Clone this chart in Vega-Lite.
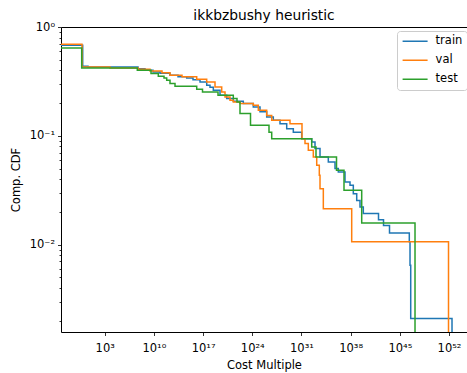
{
  "$schema": "https://vega.github.io/schema/vega-lite/v6.json",
  "width": 406,
  "height": 305,
  "autosize": {"type": "none"},
  "padding": {"left": 61, "top": 27, "right": 0, "bottom": 41},
  "title": {"text": "ikkbzbushy heuristic", "fontSize": 13.8, "fontWeight": "normal", "font": "DejaVu Sans", "color": "black", "offset": -2},
  "config": {
    "font": "DejaVu Sans",
    "view": {"stroke": null},
    "axis": {"grid": false, "domainColor": "black", "tickColor": "black", "labelColor": "black", "titleColor": "black", "labelFontSize": 11.5, "titleFontSize": 11.5, "titleFontWeight": "normal", "tickWidth": 0.8, "domainWidth": 1, "labelFont": "DejaVu Sans", "titleFont": "DejaVu Sans"}
  },
  "datasets": {
    "curves": [
      {"split": "train", "cost": 1e-4, "ccdf": 0.679},
      {"split": "train", "cost": 0.74, "ccdf": 0.435},
      {"split": "train", "cost": 4.2, "ccdf": 0.429},
      {"split": "train", "cost": 5.48e7, "ccdf": 0.413},
      {"split": "train", "cost": 5.43e8, "ccdf": 0.400},
      {"split": "train", "cost": 7.48e9, "ccdf": 0.386},
      {"split": "train", "cost": 7.41e10, "ccdf": 0.375},
      {"split": "train", "cost": 1.96e12, "ccdf": 0.360},
      {"split": "train", "cost": 2.70e13, "ccdf": 0.349},
      {"split": "train", "cost": 4.67e14, "ccdf": 0.340},
      {"split": "train", "cost": 3.68e15, "ccdf": 0.327},
      {"split": "train", "cost": 3.65e16, "ccdf": 0.312},
      {"split": "train", "cost": 3.28e17, "ccdf": 0.291},
      {"split": "train", "cost": 9.66e17, "ccdf": 0.279},
      {"split": "train", "cost": 2.85e18, "ccdf": 0.262},
      {"split": "train", "cost": 2.56e19, "ccdf": 0.236},
      {"split": "train", "cost": 2.30e20, "ccdf": 0.220},
      {"split": "train", "cost": 2.00e21, "ccdf": 0.208},
      {"split": "train", "cost": 5.30e22, "ccdf": 0.198},
      {"split": "train", "cost": 1.40e24, "ccdf": 0.184},
      {"split": "train", "cost": 1.26e25, "ccdf": 0.166},
      {"split": "train", "cost": 1.13e26, "ccdf": 0.149},
      {"split": "train", "cost": 9.84e26, "ccdf": 0.139},
      {"split": "train", "cost": 8.85e27, "ccdf": 0.129},
      {"split": "train", "cost": 7.94e28, "ccdf": 0.116},
      {"split": "train", "cost": 6.92e29, "ccdf": 0.108},
      {"split": "train", "cost": 1.08e31, "ccdf": 0.0942},
      {"split": "train", "cost": 2.87e32, "ccdf": 0.0877},
      {"split": "train", "cost": 8.47e32, "ccdf": 0.0763},
      {"split": "train", "cost": 4.36e33, "ccdf": 0.0639},
      {"split": "train", "cost": 6.61e34, "ccdf": 0.0574},
      {"split": "train", "cost": 5.94e35, "ccdf": 0.0500},
      {"split": "train", "cost": 1.75e36, "ccdf": 0.0465},
      {"split": "train", "cost": 1.57e37, "ccdf": 0.0376},
      {"split": "train", "cost": 8.09e37, "ccdf": 0.0351},
      {"split": "train", "cost": 2.39e38, "ccdf": 0.0294},
      {"split": "train", "cost": 7.28e38, "ccdf": 0.0255},
      {"split": "train", "cost": 2.14e39, "ccdf": 0.0222},
      {"split": "train", "cost": 6.32e39, "ccdf": 0.0193},
      {"split": "train", "cost": 9.20e41, "ccdf": 0.0169},
      {"split": "train", "cost": 4.74e42, "ccdf": 0.0150},
      {"split": "train", "cost": 3.38e43, "ccdf": 0.0128},
      {"split": "train", "cost": 2.22e46, "ccdf": 0.0106},
      {"split": "train", "cost": 2.80e46, "ccdf": 0.00645},
      {"split": "train", "cost": 3.52e46, "ccdf": 0.00209},
      {"split": "train", "cost": 2.65e52, "ccdf": 1e-4},
      {"split": "val", "cost": 1e-4, "ccdf": 0.693},
      {"split": "val", "cost": 0.589, "ccdf": 0.429},
      {"split": "val", "cost": 5.68e3, "ccdf": 0.420},
      {"split": "val", "cost": 5.48e7, "ccdf": 0.408},
      {"split": "val", "cost": 2.80e9, "ccdf": 0.394},
      {"split": "val", "cost": 1.43e11, "ccdf": 0.379},
      {"split": "val", "cost": 1.96e12, "ccdf": 0.360},
      {"split": "val", "cost": 1.0e14, "ccdf": 0.349},
      {"split": "val", "cost": 1.24e16, "ccdf": 0.331},
      {"split": "val", "cost": 3.28e17, "ccdf": 0.312},
      {"split": "val", "cost": 4.98e18, "ccdf": 0.281},
      {"split": "val", "cost": 4.47e19, "ccdf": 0.253},
      {"split": "val", "cost": 1.32e20, "ccdf": 0.227},
      {"split": "val", "cost": 6.78e20, "ccdf": 0.212},
      {"split": "val", "cost": 2.00e21, "ccdf": 0.205},
      {"split": "val", "cost": 1.79e22, "ccdf": 0.198},
      {"split": "val", "cost": 1.40e24, "ccdf": 0.191},
      {"split": "val", "cost": 7.23e24, "ccdf": 0.172},
      {"split": "val", "cost": 1.13e26, "ccdf": 0.154},
      {"split": "val", "cost": 5.83e26, "ccdf": 0.139},
      {"split": "val", "cost": 2.34e29, "ccdf": 0.129},
      {"split": "val", "cost": 1.19e31, "ccdf": 0.0942},
      {"split": "val", "cost": 3.19e31, "ccdf": 0.0848},
      {"split": "val", "cost": 9.42e31, "ccdf": 0.0736},
      {"split": "val", "cost": 4.85e32, "ccdf": 0.0639},
      {"split": "val", "cost": 1.48e33, "ccdf": 0.0536},
      {"split": "val", "cost": 3.46e33, "ccdf": 0.0434},
      {"split": "val", "cost": 4.36e33, "ccdf": 0.0327},
      {"split": "val", "cost": 1.29e34, "ccdf": 0.0214},
      {"split": "val", "cost": 1.41e38, "ccdf": 0.0106},
      {"split": "val", "cost": 8.43e51, "ccdf": 1e-4},
      {"split": "test", "cost": 1e-4, "ccdf": 0.641},
      {"split": "test", "cost": 0.533, "ccdf": 0.420},
      {"split": "test", "cost": 4.36e7, "ccdf": 0.400},
      {"split": "test", "cost": 3.88e9, "ccdf": 0.373},
      {"split": "test", "cost": 4.25e10, "ccdf": 0.352},
      {"split": "test", "cost": 2.75e11, "ccdf": 0.340},
      {"split": "test", "cost": 6.65e11, "ccdf": 0.324},
      {"split": "test", "cost": 1.96e12, "ccdf": 0.302},
      {"split": "test", "cost": 1.01e13, "ccdf": 0.285},
      {"split": "test", "cost": 1.24e16, "ccdf": 0.268},
      {"split": "test", "cost": 8.28e16, "ccdf": 0.253},
      {"split": "test", "cost": 1.33e19, "ccdf": 0.236},
      {"split": "test", "cost": 2.00e21, "ccdf": 0.220},
      {"split": "test", "cost": 6.71e21, "ccdf": 0.205},
      {"split": "test", "cost": 1.79e22, "ccdf": 0.160},
      {"split": "test", "cost": 5.61e23, "ccdf": 0.125},
      {"split": "test", "cost": 2.40e26, "ccdf": 0.108},
      {"split": "test", "cost": 5.83e26, "ccdf": 0.0942},
      {"split": "test", "cost": 2.87e32, "ccdf": 0.0789},
      {"split": "test", "cost": 1.17e33, "ccdf": 0.0639},
      {"split": "test", "cost": 9.70e35, "ccdf": 0.0482},
      {"split": "test", "cost": 1.13e37, "ccdf": 0.0316},
      {"split": "test", "cost": 3.74e39, "ccdf": 0.0158},
      {"split": "test", "cost": 1.44e47, "ccdf": 1e-4}
    ]
  },
  "layer": [
    {
      "data": {"name": "curves"},
      "mark": {"type": "line", "interpolate": "step-after", "strokeWidth": 1.5, "clip": true},
      "encoding": {
        "x": {
          "field": "cost", "type": "quantitative",
          "scale": {"type": "log", "domain": [6.04e-4, 3.6e54], "nice": false, "zero": false},
          "axis": {
            "values": [1e3, 1e10, 1e17, 1e24, 1e31, 1e38, 1e45, 1e52],
            "labelExpr": "'10' + replace(replace(replace(replace(replace(replace(replace(replace(replace(replace(replace('' + round(log(datum.value)/LN10), '-', '⁻'), '0', '⁰'), '1', '¹'), '2', '²'), '3', '³'), '4', '⁴'), '5', '⁵'), '6', '⁶'), '7', '⁷'), '8', '⁸'), '9', '⁹')",
            "title": "Cost Multiple",
            "tickSize": 3.5,
            "labelPadding": 7,
            "titlePadding": 5,
            "labelFlush": false,
            "orient": "bottom"
          }
        },
        "y": {
          "field": "ccdf", "type": "quantitative",
          "scale": {"type": "log", "domain": [1.574e-3, 1], "nice": false, "zero": false},
          "axis": {
            "values": [0.01, 0.1, 1],
            "labelExpr": "'10' + replace(replace(replace(replace(replace(replace(replace(replace(replace(replace(replace('' + round(log(datum.value)/LN10), '-', '⁻'), '0', '⁰'), '1', '¹'), '2', '²'), '3', '³'), '4', '⁴'), '5', '⁵'), '6', '⁶'), '7', '⁷'), '8', '⁸'), '9', '⁹')",
            "title": "Comp. CDF",
            "tickSize": 3.5,
            "labelPadding": 3,
            "titlePadding": 8,
            "labelFlush": false,
            "orient": "left"
          }
        },
        "color": {
          "field": "split", "type": "nominal",
          "scale": {"domain": ["train", "val", "test"], "range": ["#1f77b4", "#ff7f0e", "#2ca02c"]},
          "legend": {
            "title": null,
            "orient": "none",
            "legendX": 336,
            "legendY": 4,
            "symbolType": "stroke",
            "symbolSize": 625,
            "symbolStrokeWidth": 1.5,
            "labelFontSize": 11.5,
            "labelColor": "black",
            "labelFont": "DejaVu Sans",
            "strokeColor": "#cccccc",
            "fillColor": "rgba(255,255,255,0.8)",
            "cornerRadius": 3,
            "padding": 4.6,
            "clipHeight": 11.5,
            "rowPadding": 6,
            "labelOffset": 7
          }
        }
      }
    },
    {
      "data": {"name": "curves"},
      "mark": {"type": "tick", "opacity": 0, "clip": true},
      "encoding": {
        "y": {
          "field": "ccdf", "type": "quantitative",
          "scale": {"type": "log", "domain": [1.574e-3, 1], "nice": false, "zero": false},
          "axis": {
            "values": [0.002, 0.003, 0.004, 0.005, 0.006, 0.007, 0.008, 0.009, 0.02, 0.03, 0.04, 0.05, 0.06, 0.07, 0.08, 0.09, 0.2, 0.3, 0.4, 0.5, 0.6, 0.7, 0.8, 0.9],
            "labels": false,
            "title": null,
            "domain": false,
            "tickSize": 2,
            "orient": "left"
          }
        },
        "x": {
          "field": "cost", "type": "quantitative",
          "scale": {"type": "log", "domain": [6.04e-4, 3.6e54], "nice": false, "zero": false},
          "axis": {"orient": "top", "labels": false, "ticks": false, "title": null, "domain": true}
        }
      }
    }
  ],
  "resolve": {"axis": {"y": "independent", "x": "independent"}}
}
